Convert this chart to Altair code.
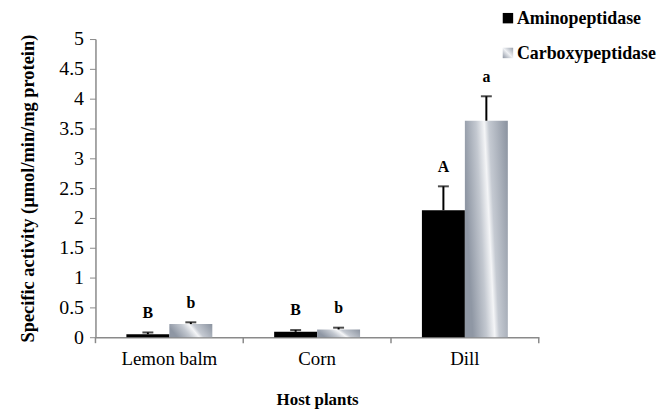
import altair as alt
import pandas as pd

plants = ["Lemon balm", "Corn", "Dill"]
series = ["Aminopeptidase", "Carboxypeptidase"]
amino = [0.05, 0.09, 2.13]
amino_err = [0.03, 0.03, 0.40]
carboxy = [0.22, 0.13, 3.63]
carboxy_err = [0.03, 0.03, 0.41]
amino_letters = ["B", "B", "A"]
carboxy_letters = ["b", "b", "a"]
y_ticks = [0, 0.5, 1, 1.5, 2, 2.5, 3, 3.5, 4, 4.5, 5]

rows = []
for i, p in enumerate(plants):
    rows.append({"plant": p, "series": series[0], "value": amino[i], "err": amino_err[i], "letter": amino_letters[i]})
    rows.append({"plant": p, "series": series[1], "value": carboxy[i], "err": carboxy_err[i], "letter": carboxy_letters[i]})
df = pd.DataFrame(rows)
df["top"] = df["value"] + df["err"]
df["lab"] = df["top"] + 0.33

W, H = 446, 300
SERIF = "Liberation Serif"

x_enc = alt.X("plant:N", sort=plants, scale=alt.Scale(domain=plants, paddingInner=0, paddingOuter=0),
              axis=alt.Axis(title="Host plants", titleFont=SERIF, titleFontSize=17, titleFontWeight="bold",
                            titleColor="black", titlePadding=24, labelFont=SERIF, labelFontSize=19,
                            labelColor="black", labelPadding=12, labelAngle=0, ticks=False,
                            domainColor="#8a8a8a", domainWidth=1.5))
xo_enc = alt.XOffset("series:N", scale=alt.Scale(domain=series, paddingInner=0, paddingOuter=0.72))
y_scale = alt.Scale(domain=[0, 5], nice=False)
y_axis = alt.Axis(values=y_ticks, labelExpr="'' + datum.value", title="Specific activity (µmol/min/mg protein)",
                  titleFont=SERIF, titleFontSize=18.5, titleFontWeight="bold", titleColor="black",
                  titlePadding=21, labelFont=SERIF, labelFontSize=20, labelColor="black",
                  labelPadding=6, tickColor="#8a8a8a", tickSize=6, domainColor="#8a8a8a",
                  domainWidth=1.5, grid=False)

base = alt.Chart(df)

amino_bars = base.transform_filter(alt.datum.series == series[0]).mark_bar(color="black").encode(
    x=x_enc, xOffset=xo_enc,
    y=alt.Y("value:Q", scale=y_scale, axis=y_axis))

grad = alt.Gradient(gradient="linear", x1=0, y1=0.25, x2=1, y2=0,
                    stops=[alt.GradientStop(offset=0, color="#8f97a4"),
                           alt.GradientStop(offset=0.3, color="#c3c8d0"),
                           alt.GradientStop(offset=0.48, color="#f4f5f7"),
                           alt.GradientStop(offset=0.58, color="#c5cad2"),
                           alt.GradientStop(offset=1, color="#8a929f")])
grad_sq = alt.Gradient(gradient="linear", x1=0, y1=1, x2=1, y2=0,
                       stops=[alt.GradientStop(offset=0, color="#8f97a4"),
                              alt.GradientStop(offset=0.5, color="#eef0f3"),
                              alt.GradientStop(offset=1, color="#9aa1ad")])

carb_bars = base.transform_filter(alt.datum.series == series[1]).mark_bar(color=grad).encode(
    x=x_enc, xOffset=xo_enc, y=alt.Y("value:Q", scale=y_scale, axis=y_axis))

err_rule = base.mark_rule(color="black", strokeWidth=2).encode(
    x=x_enc, xOffset=xo_enc, y=alt.Y("value:Q", scale=y_scale, axis=y_axis), y2="top:Q")
err_cap = base.mark_tick(color="black", thickness=2, size=11).encode(
    x=x_enc, xOffset=xo_enc, y=alt.Y("top:Q", scale=y_scale, axis=y_axis))

letters = base.mark_text(font=SERIF, fontSize=16, fontWeight="bold", color="black", baseline="middle").encode(
    x=x_enc, xOffset=xo_enc, y=alt.Y("lab:Q", scale=y_scale, axis=y_axis), text="letter:N")

tick_df = pd.DataFrame({"plant": plants})
cat_ticks = alt.Chart(tick_df).mark_rule(color="#8a8a8a", strokeWidth=1.5).encode(
    x=alt.X("plant:N", sort=plants, bandPosition=0, scale=alt.Scale(domain=plants, paddingInner=0, paddingOuter=0)),
    y=alt.value(H), y2=alt.value(H + 6))
end_tick = alt.Chart(pd.DataFrame({"a": [0]})).mark_rule(color="#8a8a8a", strokeWidth=1.5).encode(
    x=alt.value(W), y=alt.value(H), y2=alt.value(H + 6))

leg_df = pd.DataFrame({"series": series, "row": [0, 1]})
leg_sq1 = alt.Chart(leg_df).transform_filter(alt.datum.row == 0).mark_square(size=110, color="black", opacity=1).encode(
    x=alt.value(W - 31), y=alt.value(-21))
leg_sq2 = alt.Chart(leg_df).transform_filter(alt.datum.row == 1).mark_square(size=110, color=grad_sq, opacity=1).encode(
    x=alt.value(W - 31), y=alt.value(14))
leg_txt1 = alt.Chart(leg_df).transform_filter(alt.datum.row == 0).mark_text(
    font=SERIF, fontSize=18, fontWeight="bold", color="black", align="left", baseline="middle").encode(
    x=alt.value(W - 22), y=alt.value(-20), text="series:N")
leg_txt2 = alt.Chart(leg_df).transform_filter(alt.datum.row == 1).mark_text(
    font=SERIF, fontSize=18, fontWeight="bold", color="black", align="left", baseline="middle").encode(
    x=alt.value(W - 22), y=alt.value(15), text="series:N")

chart = alt.layer(amino_bars, carb_bars, err_rule, err_cap, letters, cat_ticks, end_tick,
                  leg_sq1, leg_sq2, leg_txt1, leg_txt2).properties(
    width=W, height=H,
    autosize=alt.AutoSizeParams(type="none"),
    padding={"left": 88, "top": 30, "right": 125, "bottom": 71},
    background="white"
).configure_view(stroke=None)

chart.save("out.html", embed_options={"renderer": "svg", "actions": False})
